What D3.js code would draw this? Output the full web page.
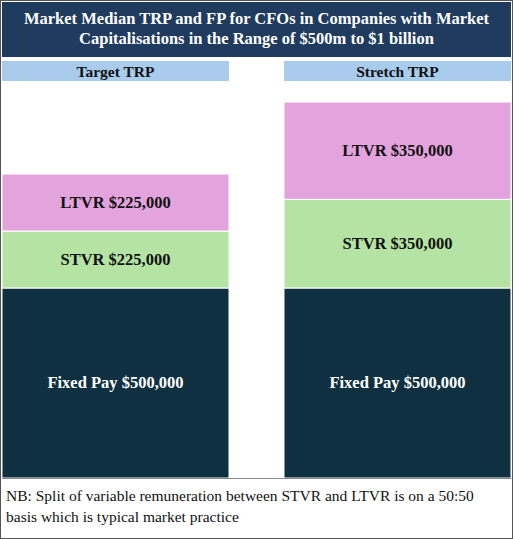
<!DOCTYPE html><html><head><meta charset="utf-8">
<script src="https://cdn.jsdelivr.net/npm/d3@7"></script>
<style>body{margin:0;background:#fff}</style></head><body>
<script>
const columns=["Target TRP","Stretch TRP"];
const components=["Fixed Pay","STVR","LTVR"];
const targetValues=[500000,225000,225000];
const stretchValues=[500000,350000,350000];
const titleLines=["Market Median TRP and FP  for CFOs in Companies with Market","Capitalisations in the Range of $500m to $1 billion"];
const noteLines=["NB: Split of variable remuneration between STVR and LTVR is on a 50:50","basis which is typical market practice"];
const fills=["#0f3040","#b5e3a3","#e3a3dd"];
const textCol=["#fff","#111","#111"];
const W=513,H=539,font="'Liberation Serif','DejaVu Serif',serif";
const svg=d3.select("body").append("svg").attr("width",W).attr("height",H);
svg.append("rect").attr("x",0.5).attr("y",0.5).attr("width",W-1).attr("height",H-1).attr("fill","#fff").attr("stroke","#555");
svg.append("rect").attr("x",2).attr("y",2).attr("width",W-4).attr("height",55).attr("fill","#1f3b5e");
svg.selectAll(".t").data(titleLines).join("text").attr("x",W/2).attr("y",(d,i)=>24+i*20)
 .attr("text-anchor","middle").attr("fill","#fff").attr("font-family",font).attr("font-weight","bold").attr("font-size",16.5).text(d=>d);
const x=d3.scaleBand().domain(columns).range([2,511]).paddingInner(0.195);
const y=d3.scaleLinear().domain([0,500000,950000,1200000]).range([478,288,174,102]);
const data=[targetValues,stretchValues];
columns.forEach((c,ci)=>{
 const bx=x(c),bw=x.bandwidth();
 svg.append("rect").attr("x",bx).attr("y",61).attr("width",bw).attr("height",20).attr("fill","#a9cbec");
 svg.append("text").attr("x",bx+bw/2).attr("y",77).attr("text-anchor","middle").attr("font-family",font).attr("font-weight","bold").attr("font-size",15.5).attr("fill","#111").text(c);
 let cum=0;
 data[ci].forEach((v,k)=>{
  const y0=y(cum),y1=y(cum+v);cum+=v;
  svg.append("rect").attr("x",bx).attr("y",y1).attr("width",bw).attr("height",y0-y1).attr("fill",fills[k]).attr("stroke","#fff").attr("stroke-width",1);
  svg.append("text").attr("x",bx+bw/2).attr("y",(y0+y1)/2+5).attr("text-anchor","middle").attr("font-family",font).attr("font-weight","bold").attr("font-size",16.5).attr("fill",textCol[k])
   .text(components[k]+" $"+d3.format(",")(v));
 });
});
svg.append("line").attr("x1",2).attr("x2",511).attr("y1",478.5).attr("y2",478.5).attr("stroke","#888");
svg.selectAll(".n").data(noteLines).join("text").attr("x",6).attr("y",(d,i)=>501+i*21)
 .attr("font-family",font).attr("font-size",15.5).attr("fill","#111").text(d=>d);
</script></body></html>
